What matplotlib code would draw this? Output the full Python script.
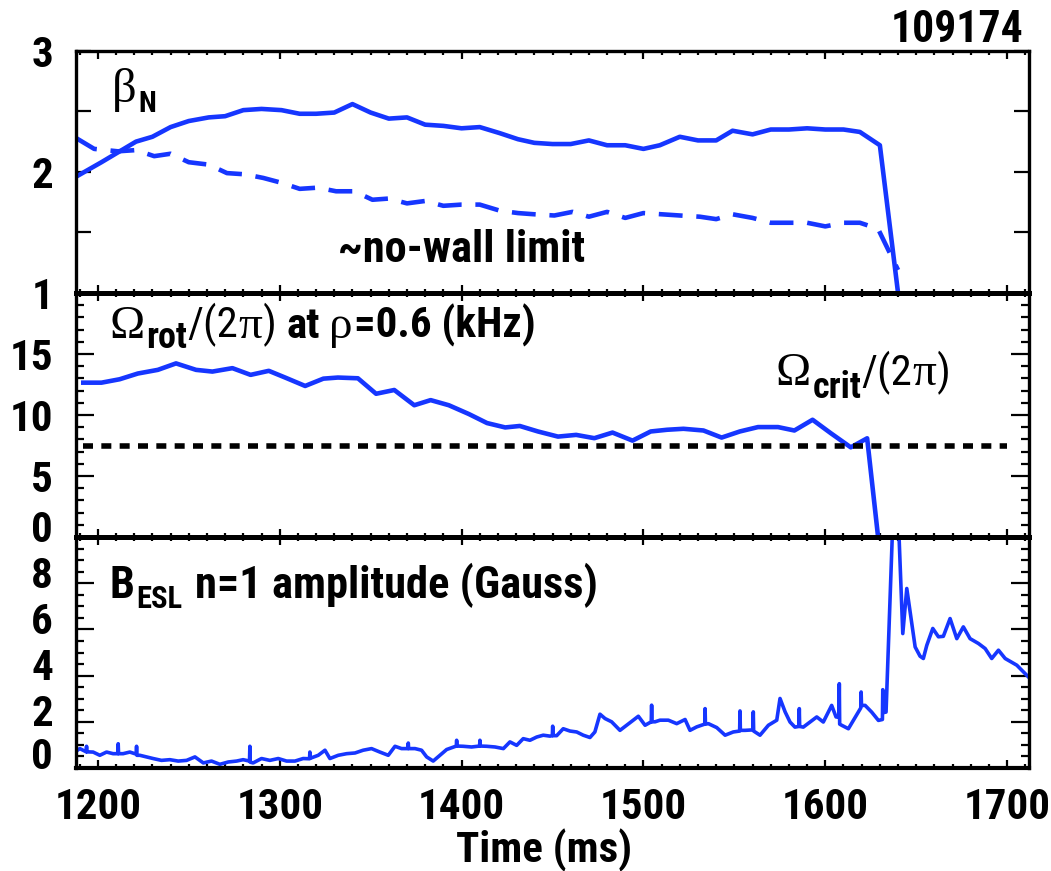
import matplotlib
matplotlib.use('Agg')
import matplotlib.pyplot as plt
from matplotlib import font_manager
from matplotlib.transforms import ScaledTranslation
from matplotlib.ticker import FixedLocator, MultipleLocator, FuncFormatter

# ---------------- data ----------------
beta_t = [1188, 1202, 1221, 1230, 1240, 1250, 1261, 1270, 1280, 1290,
          1301, 1311, 1320, 1330, 1340, 1350, 1360, 1370, 1380, 1390,
          1400, 1410, 1421, 1431, 1440, 1450, 1460, 1470, 1480, 1490,
          1500, 1509, 1520, 1530, 1540, 1549, 1560, 1570, 1580, 1590,
          1600, 1610, 1619, 1630, 1640]
beta_n = [1.96, 2.08, 2.25, 2.29, 2.37, 2.42, 2.45, 2.46, 2.51, 2.52,
          2.51, 2.48, 2.48, 2.49, 2.56, 2.49, 2.44, 2.45, 2.39, 2.38,
          2.36, 2.37, 2.32, 2.27, 2.24, 2.23, 2.23, 2.26, 2.22, 2.22,
          2.19, 2.22, 2.29, 2.26, 2.26, 2.34, 2.31, 2.35, 2.35, 2.36,
          2.35, 2.35, 2.33, 2.22, 1.0]

nowall_t = [1188, 1198, 1211, 1221, 1231, 1240, 1250, 1261, 1271, 1281,
            1291, 1301, 1311, 1321, 1331, 1341, 1351, 1360, 1370, 1380,
            1390, 1400, 1410, 1421, 1431, 1440, 1451, 1461, 1470, 1480,
            1490, 1500, 1510, 1520, 1531, 1540, 1549, 1560, 1570, 1580,
            1590, 1600, 1610, 1619, 1629, 1640]
nowall = [2.28, 2.19, 2.17, 2.18, 2.13, 2.15, 2.08, 2.06, 1.99, 1.98,
          1.95, 1.91, 1.86, 1.87, 1.84, 1.84, 1.77, 1.78, 1.74, 1.76,
          1.72, 1.73, 1.73, 1.68, 1.66, 1.65, 1.64, 1.67, 1.63, 1.67,
          1.62, 1.66, 1.65, 1.64, 1.63, 1.61, 1.65, 1.62, 1.58, 1.58,
          1.58, 1.55, 1.58, 1.58, 1.53, 1.19]

rot_t = [1192, 1202, 1212, 1222, 1233, 1243, 1254, 1263, 1274, 1284,
         1294, 1303, 1314, 1324, 1332, 1343, 1353, 1363, 1374, 1383,
         1393, 1404, 1414, 1424, 1432, 1442, 1453, 1463, 1473, 1483,
         1494, 1504, 1513, 1522, 1533, 1543, 1553, 1563, 1574, 1583,
         1593, 1603, 1614, 1623, 1629]
rot = [12.65, 12.65, 12.93, 13.40, 13.70, 14.23, 13.70, 13.56, 13.84, 13.29,
       13.62, 13.07, 12.38, 12.98, 13.07, 13.01, 11.74, 12.05, 10.80, 11.22,
       10.80, 10.08, 9.34, 8.98, 9.10, 8.65, 8.23, 8.37, 8.10, 8.56,
       7.90, 8.65, 8.79, 8.87, 8.73, 8.15, 8.65, 9.01, 9.01, 8.73,
       9.61, 8.51, 7.35, 8.09, 0.03]

crit_t = [1192, 1700]
crit = [7.5, 7.5]

besl_t = [1187.4, 1190.1, 1193.6, 1193.8, 1194.0, 1197.4, 1201.1, 1204.8, 1208.4,
          1211.0, 1211.2, 1211.4, 1213.9, 1217.6, 1221.1, 1221.3, 1221.5, 1223.1,
          1226.8, 1230.4, 1235.0, 1239.6, 1244.2, 1248.8, 1253.4, 1258.0, 1262.5,
          1267.1, 1271.7, 1276.3, 1279.9, 1283.4, 1283.6, 1283.8, 1285.4, 1290.0,
          1294.6, 1299.2, 1303.8, 1308.4, 1312.9, 1316.4, 1316.6, 1316.8, 1321.2,
          1324.9, 1327.6, 1332.2, 1336.8, 1341.4, 1345.9, 1350.5, 1355.1, 1359.7,
          1363.4, 1367.0, 1370.5, 1370.7, 1370.9, 1374.4, 1378.0, 1380.8, 1384.4,
          1388.1, 1391.8, 1397.1, 1397.3, 1397.5, 1400.9, 1405.5, 1409.9, 1410.1,
          1410.3, 1413.8, 1418.4, 1423.0, 1426.6, 1430.3, 1433.9, 1437.6, 1441.3,
          1444.9, 1448.6, 1449.9, 1450.1, 1450.3, 1452.3, 1455.9, 1459.6, 1463.3,
          1466.9, 1470.6, 1473.3, 1476.1, 1478.9, 1482.5, 1487.1, 1490.8, 1494.4,
          1497.2, 1500.9, 1504.3, 1504.5, 1504.7, 1506.4, 1509.1, 1513.7, 1518.3,
          1522.9, 1525.6, 1529.3, 1533.7, 1533.9, 1534.1, 1535.7, 1540.3, 1544.9,
          1549.4, 1552.9, 1553.1, 1553.3, 1555.9, 1560.2, 1560.4, 1560.6, 1564.1,
          1568.7, 1573.3, 1575.1, 1577.9, 1580.6, 1583.3, 1585.5, 1585.7, 1585.9,
          1587.9, 1591.6, 1595.3, 1598.9, 1603.5, 1605.9, 1607.5, 1607.7, 1607.9,
          1609.0, 1612.7, 1615.4, 1619.5, 1619.7, 1619.9, 1621.9, 1625.5, 1629.2,
          1631.4, 1631.6, 1631.8, 1633.4, 1638.6, 1642.6, 1644.8, 1649.4, 1652.1,
          1653.9, 1655.8, 1659.1, 1662.2, 1664.9, 1668.6, 1672.3, 1675.9, 1679.6,
          1684.2, 1687.9, 1691.5, 1695.2, 1698.9, 1705.3, 1711.7]
besl = [0.69, 0.84, 0.70, 0.94, 0.70, 0.69, 0.55, 0.69, 0.62,
        0.62, 1.05, 0.62, 0.62, 0.69, 0.60, 0.94, 0.55, 0.55,
        0.48, 0.41, 0.33, 0.36, 0.30, 0.33, 0.48, 0.22, 0.30,
        0.16, 0.26, 0.30, 0.36, 0.30, 0.94, 0.25, 0.22, 0.41,
        0.33, 0.41, 0.30, 0.30, 0.41, 0.40, 0.69, 0.42, 0.55,
        0.77, 0.41, 0.55, 0.62, 0.65, 0.77, 0.84, 0.69, 0.55,
        0.94, 0.84, 0.84, 1.08, 0.84, 0.84, 0.77, 0.48, 0.30,
        0.55, 0.80, 0.95, 1.20, 0.95, 0.94, 0.91, 0.95, 1.20,
        0.95, 0.94, 0.91, 0.84, 1.13, 0.98, 1.27, 1.20, 1.34,
        1.42, 1.38, 1.40, 1.81, 1.40, 1.40, 1.70, 1.60, 1.56,
        1.42, 1.32, 1.56, 2.33, 2.14, 2.00, 1.63, 1.85, 2.07,
        2.24, 1.85, 2.00, 2.72, 2.00, 2.00, 2.07, 2.07, 1.92,
        2.10, 1.63, 1.78, 1.90, 2.57, 1.90, 1.92, 1.75, 1.42,
        1.56, 1.60, 2.47, 1.63, 1.63, 1.65, 2.43, 1.60, 1.42,
        1.85, 2.07, 3.01, 2.43, 1.99, 1.77, 1.80, 2.57, 1.80,
        1.77, 1.99, 2.21, 1.99, 2.71, 2.21, 2.20, 3.65, 1.90,
        1.85, 1.70, 2.06, 2.60, 3.29, 2.71, 2.71, 2.42, 2.06,
        2.10, 3.39, 2.40, 2.42, 14.0, 5.82, 7.77, 5.24, 4.84,
        4.74, 5.31, 6.04, 5.68, 5.70, 6.47, 5.60, 6.11, 5.60,
        5.39, 5.17, 4.74, 5.10, 4.74, 4.45, 3.94]

x_ticks = [1200, 1300, 1400, 1500, 1600, 1700]

# ---------------- fonts ----------------
names = {f.name for f in font_manager.fontManager.ttflist}
def pick(*cands):
    for c in cands:
        if c in names:
            return c
    return 'DejaVu Sans'
SANS = pick('Liberation Sans Narrow', 'Roboto Condensed', 'DejaVu Sans Condensed', 'Liberation Sans')
SERIF = pick('Liberation Serif', 'DejaVu Serif')

plt.rcParams['font.family'] = [SANS, 'DejaVu Sans']
plt.rcParams['font.weight'] = 'bold'
plt.rcParams['font.size'] = 31

BLUE = '#1636ff'
W, H = 1051, 871

fig = plt.figure(figsize=(W / 100, H / 100), dpi=100)
L = 76 / W
Wd = (1029 - 76) / W
def rect(top, bot):
    return [L, (H - bot) / H, Wd, (bot - top) / H]

ax1 = fig.add_axes(rect(50.8, 293))
ax2 = fig.add_axes(rect(293, 537))
ax3 = fig.add_axes(rect(537, 768))

for ax in (ax1, ax2, ax3):
    ax.set_xlim(1188, 1712)
    ax.xaxis.set_major_locator(FixedLocator(x_ticks))
    ax.xaxis.set_minor_locator(MultipleLocator(10))
    ax.tick_params(axis='both', which='both', direction='in', top=True, right=True,
                   width=1.6, labelsize=31)
    ax.tick_params(axis='x', which='major', length=6, pad=13.5)
    ax.tick_params(axis='x', which='minor', length=3.2)
    ax.tick_params(axis='y', which='major', length=13, pad=16.5)
    ax.tick_params(axis='y', which='minor', length=6)
    for s in ax.spines.values():
        s.set_linewidth(2.4)
    for lab in ax.get_xticklabels() + ax.get_yticklabels():
        lab.set_fontweight('bold')

ax1.tick_params(axis='x', labelbottom=False)
ax2.tick_params(axis='x', labelbottom=False)
ax1.spines['bottom'].set_linewidth(3.6)
ax2.spines['top'].set_linewidth(3.6)
ax2.spines['bottom'].set_linewidth(3.6)
ax3.spines['top'].set_linewidth(3.6)
ax3.spines['bottom'].set_linewidth(3.0)

# panel 1
ax1.plot(beta_t, beta_n, color=BLUE, lw=3.3, solid_joinstyle='round')
ax1.plot(nowall_t, nowall, color=BLUE, lw=3.3, linestyle=(0, (5.2, 3.0)))
ax1.set_ylim(1, 3)
ax1.yaxis.set_major_locator(MultipleLocator(0.5))
ax1.yaxis.set_major_formatter(FuncFormatter(
    lambda v, p: f"{v:.0f}" if abs(v - round(v)) < 1e-6 else ""))
ax1.tick_params(axis='y', which='major', length=11)

# panel 2
ax2.plot(rot_t, rot, color=BLUE, lw=3.3, solid_joinstyle='round')
ax2.plot(crit_t, crit, color='black', lw=4.0, linestyle=(0, (1.8, 1.5)))
ax2.set_ylim(0, 20)
ax2.yaxis.set_major_locator(FixedLocator([0, 5, 10, 15]))
ax2.yaxis.set_minor_locator(MultipleLocator(1))

# panel 3
ax3.plot(besl_t, besl, color=BLUE, lw=2.6)
ax3.set_ylim(0, 10)
ax3.yaxis.set_major_locator(FixedLocator([0, 2, 4, 6, 8]))
ax3.yaxis.set_minor_locator(MultipleLocator(0.5))
ax3.set_xlabel('Time (ms)', fontsize=31, fontweight='bold')
ax3.xaxis.set_label_coords((544 - 76) / (1029 - 76), -0.262)

# shift some y tick labels up as in the reference
def shift_labels(ax, offsets):
    ticks = ax.yaxis.get_major_ticks()
    locs = ax.yaxis.get_majorticklocs()
    for tk, v in zip(ticks, locs):
        dy = offsets.get(round(v, 3), 0)
        if dy:
            tk.label1.set_transform(tk.label1.get_transform() +
                                    ScaledTranslation(0, dy / 100, fig.dpi_scale_trans))

shift_labels(ax2, {0: 11})
shift_labels(ax3, {0: 15, 2: 12, 4: 12, 6: 11, 8: 11})

# ---------------- rich text helper ----------------
def rich(ax, x, y, pieces):
    prev = None
    for s, fp, dy, gap in pieces:
        yb = H - (y + dy)
        if prev is None:
            t = ax.annotate(s, xy=(x + gap, yb), xycoords='figure pixels',
                            va='baseline', ha='left', annotation_clip=False, **fp)
        else:
            t = ax.annotate(s, xy=(1, yb), xycoords=(prev, 'figure pixels'),
                            xytext=(gap * 0.72, 0), textcoords='offset points',
                            va='baseline', ha='left', annotation_clip=False, **fp)
        prev = t

BOLD = dict(family=[SANS, 'DejaVu Sans'], fontweight='bold', fontsize=31)
REG = dict(family=[SANS, 'DejaVu Sans'], fontweight='normal', fontsize=31)
GRK = dict(family=[SERIF, 'DejaVu Serif'], fontweight='normal', fontsize=34)
def sub(size):
    return dict(family=[SANS, 'DejaVu Sans'], fontweight='bold', fontsize=size)

rich(ax1, 111.7, 102, [("β", dict(GRK, fontsize=35), 0, 0), ("N", sub(21), 9.7, 1.5)])
rich(ax1, 338, 262, [("~no-wall limit", dict(BOLD, fontsize=32), 0, 0)])

rich(ax2, 110, 337.5, [("Ω", GRK, 0, 0), ("rot", sub(26), 10, 1.0),
                       ("/(2", REG, 0, 0.5), ("π", GRK, 0, 0),
                       (")", REG, 0, 0), ("at", BOLD, 0, 10),
                       ("ρ", GRK, 0, 9), ("=0.6 (kHz)", BOLD, 0, 2)])
rich(ax2, 775.5, 385, [("Ω", GRK, 0, 0), ("crit", sub(26), 13.4, 2),
                       ("/(2", REG, 0, 0), ("π", GRK, 0, 0),
                       (")", REG, 0, 0)])

rich(ax3, 110, 597.7, [("B", dict(BOLD, fontsize=32), 0, 0), ("ESL", sub(22), 10, 1),
                       ("n=1 amplitude (Gauss)", dict(BOLD, fontsize=32), 0, 13)])

ax1.annotate("109174", xy=(1023, H - 41.7), xycoords='figure pixels', ha='right',
             va='baseline', annotation_clip=False, **dict(BOLD, fontsize=31.5))

fig.savefig('out.png', dpi=100)
